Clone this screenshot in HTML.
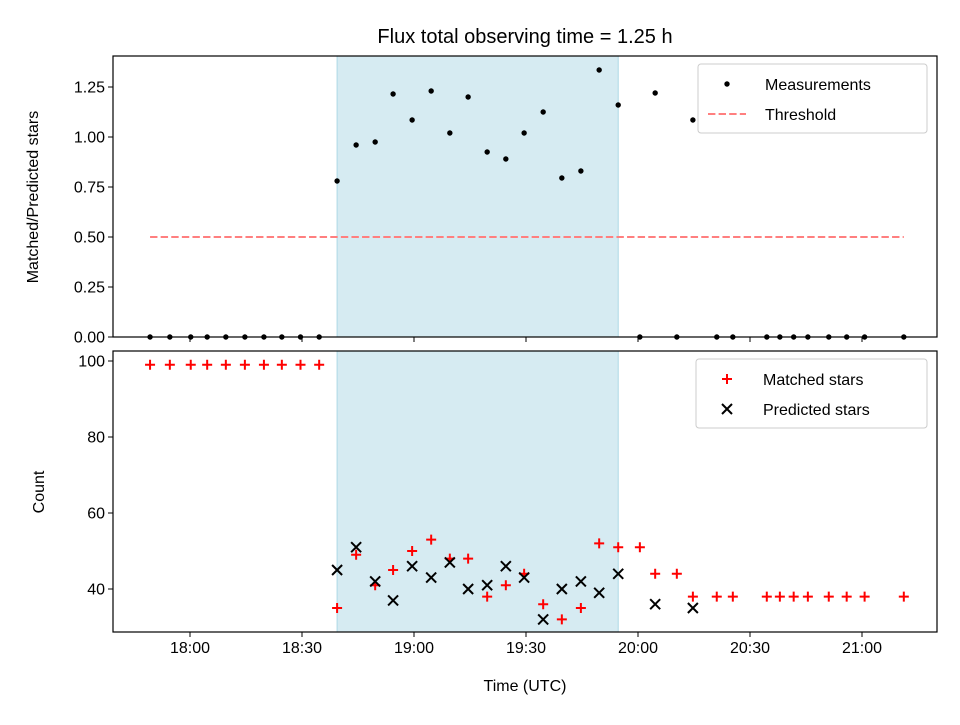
<!DOCTYPE html>
<html><head><meta charset="utf-8"><style>
body{margin:0;background:#fff}
svg{font-family:"Liberation Sans","DejaVu Sans",sans-serif}
</style></head><body>
<svg id="c" width="960" height="720"></svg>
<script>
const zeroTimes=[-10.7,-5.4,0.2,4.6,9.6,14.7,19.8,24.6,29.6,34.6,120.5,130.4,141.1,145.4,154.5,158,161.7,165.5,171.1,175.9,180.7,191.2];
const ratioTimes=[39.4,44.5,49.6,54.4,59.5,64.6,69.6,74.5,79.6,84.6,89.5,94.6,99.6,104.7,109.6,114.7,124.6,134.7];
const ratioVals=[0.78,0.96,0.975,1.215,1.085,1.23,1.02,1.2,0.925,0.89,1.02,1.125,0.795,0.83,1.335,1.16,1.22,1.085];
const matchedTimes=[-10.7,-5.4,0.2,4.6,9.6,14.7,19.8,24.6,29.6,34.6,39.4,44.5,49.6,54.4,59.5,64.6,69.6,74.5,79.6,84.6,89.5,94.6,99.6,104.7,109.6,114.7,120.5,124.6,130.4,134.7,141.1,145.4,154.5,158,161.7,165.5,171.1,175.9,180.7,191.2];
const matchedVals=[99,99,99,99,99,99,99,99,99,99,35,49,41,45,50,53,48,48,38,41,44,36,32,35,52,51,51,44,44,38,38,38,38,38,38,38,38,38,38,38];
const predTimes=[39.4,44.5,49.6,54.4,59.5,64.6,69.6,74.5,79.6,84.6,89.5,94.6,99.6,104.7,109.6,114.7,124.6,134.7];
const predVals=[45,51,42,37,46,43,47,40,41,46,43,32,40,42,39,44,36,35];
const xTickMins=[0,30,60,90,120,150,180];
const xTickLabels=["18:00","18:30","19:00","19:30","20:00","20:30","21:00"];
const topTicks=[0,0.25,0.5,0.75,1.0,1.25];
const botTicks=[40,60,80,100];
const shade=[39.4,114.7];
const threshold=0.5, thrRange=[-10.7,191.2];

const NS="http://www.w3.org/2000/svg";
const svg=document.getElementById('c');
function el(t,a,p){const e=document.createElementNS(NS,t);for(const k in a)e.setAttribute(k,a[k]);(p||svg).appendChild(e);return e;}
const L=113,R=937,T1=56,B1=337,T2=351,B2=632;
const X=m=>190+m*(112/30);
const Y1=v=>B1-v*200;
const Y2=v=>589-(v-40)*3.8;

let s=el('rect',{x:X(shade[0]),y:T1,width:X(shade[1])-X(shade[0]),height:B1-T1,fill:'#add8e6','fill-opacity':0.5,stroke:'#add8e6'});


s=el('rect',{x:X(shade[0]),y:T2,width:X(shade[1])-X(shade[0]),height:B2-T2,fill:'#add8e6','fill-opacity':0.5,stroke:'#add8e6'});



let th=el('line',{x1:X(thrRange[0]),x2:X(thrRange[1]),y1:Y1(threshold),y2:Y1(threshold),stroke:'#ff7f7f','stroke-width':2,'stroke-dasharray':'7.4,3.2'});



zeroTimes.forEach(t=>{const c=el('circle',{cx:X(t),cy:Y1(0),r:2.7,fill:'#000'});

});
ratioTimes.forEach((t,i)=>{const c=el('circle',{cx:X(t),cy:Y1(ratioVals[i]),r:2.7,fill:'#000'});

});

matchedTimes.forEach((t,i)=>{const x=X(t),y=Y2(matchedVals[i]);const p=el('path',{d:`M${x-5},${y}H${x+5}M${x},${y-5}V${y+5}`,stroke:'#f00','stroke-width':2});

});
predTimes.forEach((t,i)=>{const x=X(t),y=Y2(predVals[i]);const p=el('path',{d:`M${x-5},${y-5}L${x+5},${y+5}M${x-5},${y+5}L${x+5},${y-5}`,stroke:'#000','stroke-width':2});

});

let f=el('rect',{x:L,y:T1,width:R-L,height:B1-T1,fill:'none',stroke:'#000','stroke-width':1.2});


f=el('rect',{x:L,y:T2,width:R-L,height:B2-T2,fill:'none',stroke:'#000','stroke-width':1.2});



xTickMins.forEach((m,i)=>{const x=X(m);
el('line',{x1:x,x2:x,y1:B1,y2:B1+5,stroke:'#000'});
el('line',{x1:x,x2:x,y1:B2,y2:B2+5,stroke:'#000'});
const t=el('text',{x:x,y:B2+21,'font-size':16,'text-anchor':'middle'});t.textContent=xTickLabels[i];

});
topTicks.forEach(v=>{const y=Y1(v);el('line',{x1:L-5,x2:L,y1:y,y2:y,stroke:'#000'});
const t=el('text',{x:L-8,y:y+5.5,'font-size':16,'text-anchor':'end'});t.textContent=v.toFixed(2);

});
botTicks.forEach(v=>{const y=Y2(v);el('line',{x1:L-5,x2:L,y1:y,y2:y,stroke:'#000'});
const t=el('text',{x:L-8,y:y+5.5,'font-size':16,'text-anchor':'end'});t.textContent=v;

});
</script>
<svg width="960" height="720" style="position:absolute;left:0;top:0">
<g font-family="Liberation Sans, DejaVu Sans, sans-serif">
<text x="525" y="43" font-size="20" text-anchor="middle">Flux total observing time = 1.25 h</text>
<text transform="translate(38,197) rotate(-90)" font-size="16" text-anchor="middle">Matched/Predicted stars</text>
<text transform="translate(44,492) rotate(-90)" font-size="16" text-anchor="middle">Count</text>
<text x="525" y="691" font-size="16" text-anchor="middle">Time (UTC)</text>
<g>
<rect x="698" y="64" width="229" height="69" rx="3" fill="#fff" fill-opacity="0.8" stroke="#ccc"/>
<circle cx="727" cy="84" r="2.7" fill="#000"/>
<text x="765" y="90" font-size="16">Measurements</text>
<line x1="708" x2="746" y1="114" y2="114" stroke="#ff7f7f" stroke-width="2" stroke-dasharray="7.4,3.2"/>
<text x="765" y="120" font-size="16">Threshold</text>
</g>
<g>
<rect x="696" y="359" width="231" height="69" rx="3" fill="#fff" fill-opacity="0.8" stroke="#ccc"/>
<path d="M722,379H732M727,374V384" stroke="#f00" stroke-width="2"/>
<text x="763" y="385" font-size="16">Matched stars</text>
<path d="M722,404L732,414M722,414L732,404" stroke="#000" stroke-width="2"/>
<text x="763" y="415" font-size="16">Predicted stars</text>
</g>
</g>
</svg>
</body></html>
